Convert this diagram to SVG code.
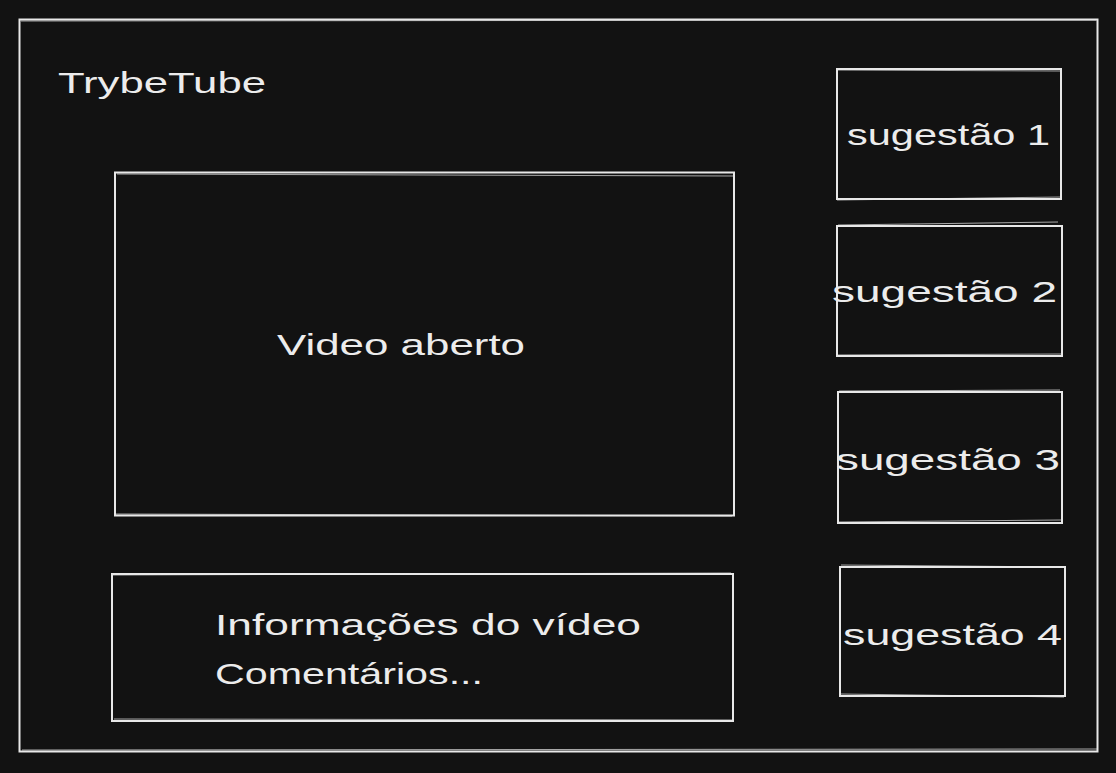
<svg xmlns="http://www.w3.org/2000/svg" width="1116" height="773" viewBox="0 0 1116 773">
<style>
.box{fill:none;stroke:#e8e8e8;stroke-width:2}
.sk{fill:none;stroke:#e8e8e8;stroke-width:1;opacity:0.7}
.t{font-family:"Liberation Sans","DejaVu Sans",sans-serif;font-size:30px;fill:#ececec}
</style>
<rect width="1116" height="773" fill="#121212"/>
<g id="frame">
<rect class="box" x="19.5" y="19.5" width="1078" height="732"/>
<path class="sk" d="M21 21 L1096 20 M22 750 L1097 749"/>
</g>
<g id="title">
<text class="t" x="58" y="93" textLength="208" lengthAdjust="spacingAndGlyphs">TrybeTube</text>
</g>
<g id="video">
<rect class="box" x="115" y="172.5" width="619" height="343"/>
<path class="sk" d="M117 174 L733 176 M116 514 L732 516"/>
<text class="t" x="277" y="355" textLength="248" lengthAdjust="spacingAndGlyphs">Video aberto</text>
</g>
<g id="info">
<rect class="box" x="112" y="574" width="621" height="147"/>
<path class="sk" d="M113 575 L731 573 M114 719 L734 720"/>
<text class="t" x="215" y="635" textLength="426" lengthAdjust="spacingAndGlyphs">Informações do vídeo</text>
<text class="t" x="215" y="684" textLength="268" lengthAdjust="spacingAndGlyphs">Comentários...</text>
</g>
<g id="sug1">
<rect class="box" x="837" y="69" width="224" height="130"/>
<path class="sk" d="M838 70 L1060 71 M837 200 L1060 197"/>
<text class="t" x="847" y="145" textLength="203" lengthAdjust="spacingAndGlyphs">sugestão 1</text>
</g>
<g id="sug2">
<rect class="box" x="837" y="226" width="225" height="130"/>
<path class="sk" d="M838 225 L1058 222 M838 355 L1061 354"/>
<text class="t" x="832" y="302" textLength="225" lengthAdjust="spacingAndGlyphs">sugestão 2</text>
</g>
<g id="sug3">
<rect class="box" x="838" y="392" width="224" height="131"/>
<path class="sk" d="M839 391 L1060 390 M839 522 L1061 520"/>
<text class="t" x="836" y="470" textLength="224" lengthAdjust="spacingAndGlyphs">sugestão 3</text>
</g>
<g id="sug4">
<rect class="box" x="840" y="567" width="225" height="129"/>
<path class="sk" d="M841 565 L1063 567 M841 694 L1064 697"/>
<text class="t" x="843" y="645" textLength="219" lengthAdjust="spacingAndGlyphs">sugestão 4</text>
</g>
<g id="connectors"></g>
</svg>
